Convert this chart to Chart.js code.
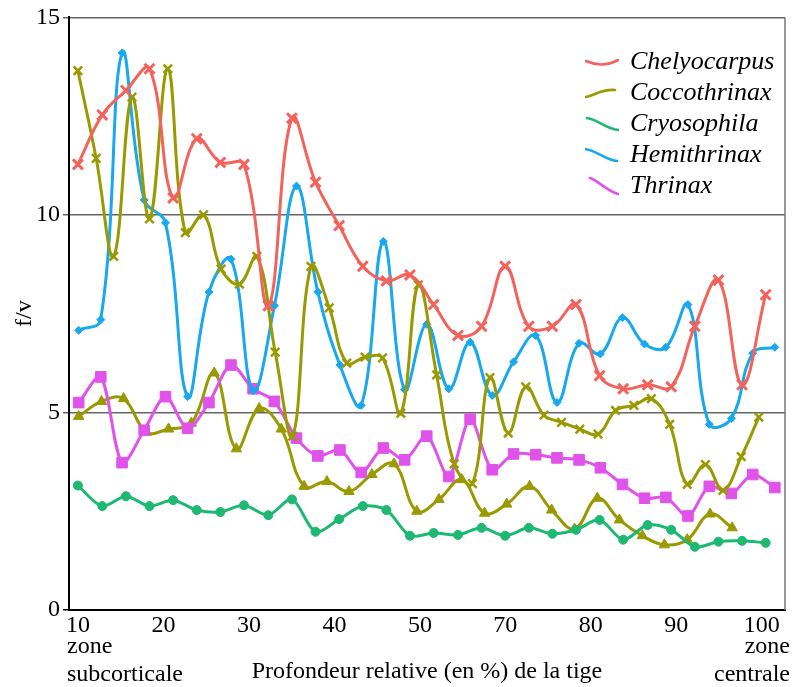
<!DOCTYPE html>
<html>
<head>
<meta charset="utf-8">
<script src="https://cdn.jsdelivr.net/npm/chart.js@4"></script>
<style>
  html, body { margin: 0; padding: 0; background: #fff; }
  #wrap { width: 795px; height: 687px; }
</style>
</head>
<body>
<div id="wrap"><canvas id="chartProfil"></canvas></div>
<script>
const depth30 = [10.0, 13.2, 16.3, 19.4, 22.5, 25.6, 28.7, 31.8, 35.0, 38.1, 41.2, 44.3, 47.4, 50.5, 53.6,
                 56.7, 59.9, 63.0, 66.1, 69.2, 72.3, 75.4, 78.5, 81.6, 84.8, 87.9, 91.0, 94.1, 97.2, 100.3];
const depth33 = [10.1, 13.0, 15.8, 18.7, 21.5, 24.4, 27.2, 30.1, 33.0, 35.8, 38.7, 41.5, 44.4, 47.2, 50.1, 52.9, 55.8,
                 58.7, 61.5, 64.4, 67.2, 70.1, 72.9, 75.8, 78.6, 81.5, 84.4, 87.2, 90.1, 92.9, 95.8, 98.6, 101.5];
const depth39 = [10.0, 12.4, 14.7, 17.1, 19.4, 21.8, 24.1, 26.5, 28.8, 31.2, 33.5, 35.9, 38.2, 40.6, 43.0, 45.3, 47.7, 50.0, 52.4, 54.7,
                 57.1, 59.4, 61.8, 64.1, 66.5, 68.8, 71.2, 73.5, 75.9, 78.3, 80.6, 83.0, 85.3, 87.7, 90.0, 92.4, 94.7, 97.1, 99.4];
const depthTri = [10.1, 13.1, 16.0, 19.0, 21.9, 24.9, 27.9, 30.8, 33.8, 36.7, 39.7, 42.7, 45.6, 48.6, 51.5,
                  54.5, 57.4, 60.4, 63.4, 66.3, 69.3, 72.2, 75.2, 78.2, 81.1, 84.1, 87.0, 90.0, 93.0, 95.9];

// f/v
const chelyocarpus = [11.28, 12.53, 13.15, 13.7, 10.43, 11.93, 11.33, 11.28, 7.7, 12.45, 10.83, 9.73, 8.7, 8.33, 8.48,
                      7.73, 6.95, 7.18, 8.7, 7.18, 7.18, 7.73, 5.93, 5.6, 5.7, 5.65, 7.18, 8.35, 5.7, 7.98];
const coccothrinax = [13.65, 11.43, 8.95, 12.98, 9.9, 13.7, 9.55, 10.0, 8.63, 8.25, 8.95, 6.53, 4.4, 8.7, 7.65, 6.25, 6.4, 6.38, 4.98, 8.23,
                      5.95, 3.7, 3.2, 5.88, 4.48, 5.65, 4.93, 4.75, 4.58, 4.45, 5.05, 5.18, 5.35, 4.7, 3.18, 3.68, 3.03, 3.88, 4.88];
const coccothrinax2 = [4.9, 5.28, 5.35, 4.5, 4.58, 4.73, 6.0, 4.08, 5.1, 4.58, 3.13, 3.25, 3.0, 3.43, 3.7,
                       2.5, 2.8, 3.3, 2.45, 2.68, 3.13, 2.53, 2.05, 2.83, 2.28, 1.88, 1.65, 1.78, 2.43, 2.08];
const cryosophila = [3.15, 2.63, 2.88, 2.63, 2.78, 2.53, 2.48, 2.65, 2.4, 2.8, 1.98, 2.3, 2.63, 2.53, 1.88,
                     1.95, 1.9, 2.08, 1.88, 2.08, 1.93, 2.03, 2.28, 1.78, 2.15, 2.03, 1.6, 1.73, 1.75, 1.7];
const hemithrinax = [7.08, 7.35, 14.1, 10.38, 9.8, 5.4, 8.05, 8.88, 5.55, 7.7, 10.73, 8.05, 6.2, 5.18, 9.33, 5.58, 7.23,
                     5.6, 6.78, 5.43, 6.28, 6.95, 5.25, 6.75, 6.48, 7.4, 6.73, 6.65, 7.73, 4.7, 4.85, 6.5, 6.65];
const thrinax = [5.25, 5.9, 3.73, 4.55, 5.4, 4.6, 5.25, 6.2, 5.6, 5.28, 4.35, 3.9, 4.05, 3.48, 4.1, 3.8, 4.4,
                 3.38, 4.83, 3.55, 3.95, 3.93, 3.85, 3.8, 3.6, 3.18, 2.83, 2.85, 2.38, 3.13, 2.95, 3.43, 3.1];

const xTickLabels = ['10', '20', '30', '40', '50', '70', '80', '90', '100'];
const yTicks = [0, 5, 10, 15];

const serif = "'Liberation Serif', 'Times New Roman', serif";

function pts(xs, ys) {
    return xs.map((x, i) => ({ x: x, y: ys[i] }));
}

function serie(label, xs, ys, color, style, radius, extra) {
    return Object.assign({
        label: label,
        data: pts(xs, ys),
        borderColor: color,
        backgroundColor: color,
        pointBorderColor: color,
        pointBackgroundColor: color,
        borderWidth: 3,
        pointStyle: style,
        pointRadius: radius,
        pointBorderWidth: 2.5,
        tension: 0.4,
        fill: false
    }, extra || {});
}

// petits traits courbes de la légende (comme sur la figure d'origine)
const legendPaths = [
    [[1, 11], [10, 15], [22, 16], [33, 10]],
    [[1, 16], [11, 14], [16, 8], [30, 9]],
    [[2, 6], [14, 8], [21, 17], [34, 18]],
    [[0, 6], [13, 8], [20, 17], [32, 18]],
    [[5, 4], [12, 6], [22, 17], [33, 20]]
];

function legendCurve(color, i) {
    const c = document.createElement('canvas');
    c.width = 34; c.height = 24;
    const g = c.getContext('2d');
    const p = legendPaths[i] || legendPaths[0];
    g.strokeStyle = color;
    g.lineWidth = 2.6;
    g.lineCap = 'round';
    g.beginPath();
    g.moveTo(p[0][0], p[0][1]);
    g.bezierCurveTo(p[1][0], p[1][1], p[2][0], p[2][1], p[3][0], p[3][1]);
    g.stroke();
    return c;
}

// textes "zone ..." sous l'axe + bord droit du cadre + légende dans le coin
const extras = {
    id: 'extras',
    beforeDatasetsDraw(chart) {
        const { ctx, chartArea } = chart;
        ctx.save();
        ctx.strokeStyle = '#777';
        ctx.lineWidth = 1.5;
        ctx.beginPath();
        ctx.moveTo(chartArea.right, chartArea.top);
        ctx.lineTo(chartArea.right, chartArea.bottom);
        ctx.stroke();
        ctx.restore();
    },
    afterDraw(chart) {
        const ctx = chart.ctx;
        ctx.save();
        ctx.fillStyle = '#000';
        ctx.font = '24px ' + serif;
        ctx.textBaseline = 'alphabetic';
        ctx.textAlign = 'left';
        ctx.fillText('zone', 67, 653);
        ctx.fillText('subcorticale', 67, 681);
        ctx.textAlign = 'right';
        ctx.fillText('zone', 790, 653);
        ctx.fillText('centrale', 790, 681);
        ctx.restore();
    },
    afterLayout(chart) {
        const lg = chart.legend;
        if (!lg) return;
        const w = lg.width, h = lg.height;
        lg.left = 582; lg.right = 582 + w;
        lg.top = 44; lg.bottom = 44 + h;
    }
};

new Chart(document.getElementById('chartProfil'), {
    type: 'line',
    data: {
        datasets: [
            serie('Chelyocarpus', depth30, chelyocarpus, '#F4625C', 'crossRot', 7, { pointBorderWidth: 3 }),
            serie('Coccothrinax', depth39, coccothrinax, '#999900', 'crossRot', 6),
            serie('Cryosophila', depth30, cryosophila, '#1DB871', 'circle', 4.5, { pointBorderWidth: 1, tension: 0.3 }),
            serie('Hemithrinax', depth33, hemithrinax, '#18A8EE', 'rectRot', 4, { pointBorderWidth: 1 }),
            serie('Thrinax', depth33, thrinax, '#E053EA', 'rect', 7.5, { pointBorderWidth: 1, tension: 0.3 }),
            serie('Coccothrinax', depthTri, coccothrinax2, '#999900', 'triangle', 6, { pointBorderWidth: 1 })
        ]
    },
    options: {
        responsive: true,
        maintainAspectRatio: false,
        animation: false,
        layout: { padding: { top: 10, right: 4, left: 0, bottom: 0 } },
        plugins: {
            tooltip: { enabled: false },
            legend: {
                position: 'chartArea',
                align: 'start',
                labels: {
                    usePointStyle: true,
                    pointStyleWidth: 30,
                    padding: 5,
                    textAlign: 'left',
                    color: '#000',
                    font: { family: serif, size: 26, style: 'italic' },
                    filter: (item) => item.datasetIndex !== 5,
                    generateLabels: (chart) => {
                        const items = Chart.defaults.plugins.legend.labels.generateLabels(chart);
                        return items.map(it => Object.assign(it, {
                            pointStyle: legendCurve(chart.data.datasets[it.datasetIndex].borderColor, it.datasetIndex),
                            lineWidth: 3
                        }));
                    }
                }
            }
        },
        scales: {
            x: {
                type: 'linear',
                min: 8.83,
                max: 102.84,
                afterFit: (scale) => { scale.height = 77; },
                afterBuildTicks: (scale) => {
                    const first = 10, last = 99.8;
                    const step = (last - first) / (xTickLabels.length - 1);
                    scale.ticks = xTickLabels.map((t, i) => ({ value: first + i * step }));
                },
                ticks: {
                    autoSkip: false,
                    maxRotation: 0,
                    padding: 1,
                    color: '#000',
                    font: { family: serif, size: 24 },
                    callback: (v, i) => xTickLabels[i]
                },
                grid: { display: false, drawTicks: false, tickLength: 0 },
                border: { display: true, color: '#000', width: 2 },
                title: {
                    display: true,
                    text: 'Profondeur relative (en %) de la tige',
                    color: '#000',
                    font: { family: serif, size: 24 },
                    padding: { top: 0, bottom: 1 }
                }
            },
            y: {
                min: 0,
                max: 15,
                afterFit: (scale) => { scale.width = 69; },
                afterBuildTicks: (scale) => {
                    scale.ticks = yTicks.map(v => ({ value: v }));
                },
                ticks: {
                    padding: 3,
                    color: '#000',
                    font: { family: serif, size: 24 }
                },
                grid: {
                    color: (c) => c.tick && c.tick.value === 0 ? '#000' : '#666',
                    lineWidth: 1.5,
                    tickLength: 6
                },
                border: { display: true, color: '#000', width: 2 },
                title: {
                    display: true,
                    text: 'f/v',
                    color: '#000',
                    font: { family: serif, size: 24 },
                    padding: { top: 10, bottom: 0 }
                }
            }
        }
    },
    plugins: [extras]
});
</script>
</body>
</html>
